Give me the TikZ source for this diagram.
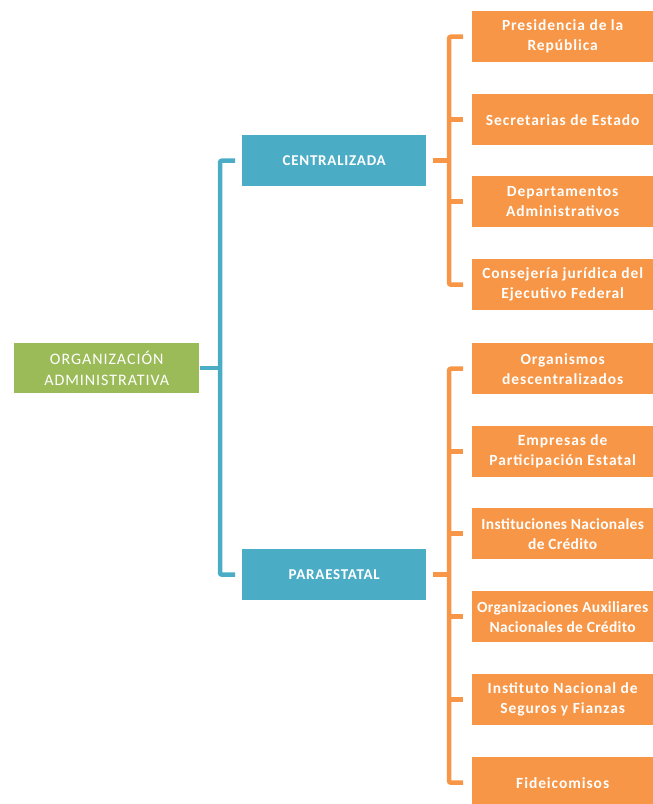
\documentclass[tikz,border=0pt]{standalone}
\usepackage{fontspec}
\setmainfont{Carlito}
\begin{document}
\begin{tikzpicture}[x=1pt,y=-1pt,
  box/.style={anchor=north west,inner sep=0pt,align=center,text=white},
  gbox/.style={box,fill=grn,minimum width=185pt,minimum height=50pt,font=\fontsize{16}{20.5}\selectfont\addfontfeatures{LetterSpace=6}},
  bbox/.style={box,fill=blu,minimum width=184pt,minimum height=51pt,font=\bfseries\fontsize{15}{18}\selectfont\addfontfeatures{LetterSpace=5}},
  obox/.style={box,fill=org,minimum width=181pt,minimum height=51pt,font=\bfseries\fontsize{15.5}{20}\selectfont\addfontfeatures{LetterSpace=6}},
  tight/.style={font=\bfseries\fontsize{15.5}{20}\selectfont\addfontfeatures{LetterSpace=2}},
  bline/.style={draw=blu,line width=4.5pt,rounded corners=2pt},
  oline/.style={draw=org,line width=4.5pt,rounded corners=2pt}]
\definecolor{grn}{HTML}{9BBB59}
\definecolor{blu}{HTML}{4BACC6}
\definecolor{org}{HTML}{F79646}
\useasboundingbox (0,0) rectangle (653,804);
\node[gbox] (root) at (14,343) {ORGANIZACIÓN\\ADMINISTRATIVA};
\node[bbox] (cen) at (242,135) {CENTRALIZADA};
\node[bbox] (par) at (242,549) {PARAESTATAL};
\node[obox] (c1) at (472,11) {Presidencia de la\\República};
\node[obox] (c2) at (472,94) {Secretarias de Estado};
\node[obox] (c3) at (472,176) {Departamentos\\Administrativos};
\node[obox] (c4) at (472,259) {Consejería jurídica del\\Ejecutivo Federal};
\node[obox] (p1) at (472,343) {Organismos\\descentralizados};
\node[obox] (p2) at (472,426) {Empresas de\\Participación Estatal};
\node[obox,tight] (p3) at (472,508) {Instituciones Nacionales\\de Crédito};
\node[obox,tight] (p4) at (472,591) {Organizaciones Auxiliares\\Nacionales de Crédito};
\node[obox] (p5) at (472,674) {Instituto Nacional de\\Seguros y Fianzas};
\node[obox] (p6) at (472,757) {Fideicomisos};
\coordinate (bx) at (220,0);
\coordinate (ox) at (449,0);
% blue connectors
\draw[bline] ([xshift=1pt]root.east) -- (root.east -| bx);
\draw[bline] ([xshift=-7pt]cen.west) -- (cen.west -| bx) -- (par.west -| bx) -- ([xshift=-7pt]par.west);
% orange connectors, centralizada
\draw[oline] ([xshift=7pt]cen.east) -- (cen.east -| ox);
\draw[oline] ([xshift=-9pt]c1.west) -- (c1.west -| ox) -- (c4.west -| ox) -- ([xshift=-9pt]c4.west);
\draw[oline] (c2.west -| ox) -- ([xshift=-9pt]c2.west);
\draw[oline] (c3.west -| ox) -- ([xshift=-9pt]c3.west);
% orange connectors, paraestatal
\draw[oline] ([xshift=7pt]par.east) -- (par.east -| ox);
\draw[oline] ([xshift=-9pt]p1.west) -- (p1.west -| ox) -- (p6.west -| ox) -- ([xshift=-9pt]p6.west);
\foreach \n in {p2,p3,p4,p5} \draw[oline] (\n.west -| ox) -- ([xshift=-9pt]\n.west);
\end{tikzpicture}
\end{document}
